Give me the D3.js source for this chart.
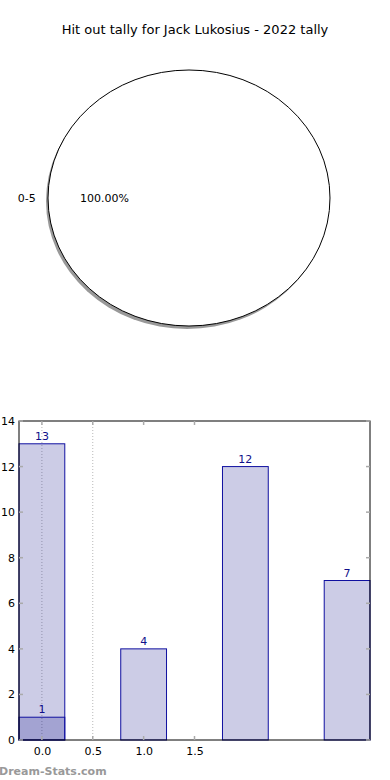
<!DOCTYPE html>
<html>
<head>
<meta charset="utf-8">
<script src="https://cdn.jsdelivr.net/npm/d3@7"></script>
<style>
  body { margin: 0; background: #fff; }
  svg { display: block; font-family: "DejaVu Sans", sans-serif; }
</style>
</head>
<body>
<div id="chart"></div>
<script>
// pie data
const pieLabels = ['0-5'];
const pieValues = [1];

// bar data
const barCategories = [0, 1, 2, 3];
const tallyValues = [13, 4, 12, 7];
const overlapCategories = [0];
const overlapValues = [1];
const xTicks = [0.0, 0.5, 1.0, 1.5];
const yTicks = [0, 2, 4, 6, 8, 10, 12, 14];

const width = 390;
const height = 780;
const barFill = 'rgba(0, 0, 128, 0.2)';
const barEdge = '#1010a0';

const svg = d3.select('#chart')
  .append('svg')
  .attr('width', width)
  .attr('height', height);

svg.append('text')
  .attr('x', 195)
  .attr('y', 34)
  .attr('text-anchor', 'middle')
  .style('font-size', '13px')
  .text('Hit out tally for Jack Lukosius - 2022 tally');

// pie, squashed into an ellipse like the original
const pieCx = 189, pieCy = 198, rx = 141, ry = 128;
const arcs = d3.pie().sort(null)(pieValues);
const arc = d3.arc().innerRadius(0).outerRadius(1);
const pieG = svg.append('g');

// shadow
pieG.append('g')
  .attr('transform', 'translate(' + (pieCx - 2) + ',' + (pieCy + 3) + ') scale(' + rx + ',' + ry + ')')
  .selectAll('path')
  .data(arcs)
  .enter()
  .append('path')
  .attr('d', arc)
  .attr('fill', '#999');

pieG.append('g')
  .attr('transform', 'translate(' + pieCx + ',' + pieCy + ') scale(' + rx + ',' + ry + ')')
  .selectAll('path')
  .data(arcs)
  .enter()
  .append('path')
  .attr('d', arc)
  .attr('fill', '#fff')
  .attr('stroke', '#000')
  .attr('stroke-width', 1)
  .attr('vector-effect', 'non-scaling-stroke');

arcs.forEach((a, i) => {
  // slices start at 0deg (matplotlib default), single slice -> mid angle points left
  const mid = (a.startAngle + a.endAngle) / 2;
  svg.append('text')
    .attr('x', pieCx + Math.cos(mid) * rx * 1.15)
    .attr('y', pieCy - Math.sin(mid) * ry * 1.15 + 4)
    .attr('text-anchor', 'middle')
    .style('font-size', '11px')
    .text(pieLabels[i]);
  svg.append('text')
    .attr('x', pieCx + Math.cos(mid) * rx * 0.6)
    .attr('y', pieCy - Math.sin(mid) * ry * 0.6 + 4)
    .attr('text-anchor', 'middle')
    .style('font-size', '11px')
    .text(d3.format('.2f')(a.value / d3.sum(pieValues) * 100) + '%');
});

// bar chart
const margin = {left: 19, right: 20, top: 421, bottom: 40};
const plotRight = width - margin.right;
const plotBottom = height - margin.bottom;
const barWidth = 0.45;

const x = d3.scaleLinear()
  .domain([-0.225, 3.225])
  .range([margin.left, plotRight]);

const y = d3.scaleLinear()
  .domain([0, 14])
  .range([plotBottom, margin.top]);

const bw = x(barWidth) - x(0);

const grid = svg.append('g');
[0.0, 0.5].forEach(t => {
  grid.append('line')
    .attr('x1', x(t)).attr('x2', x(t))
    .attr('y1', margin.top).attr('y2', plotBottom)
    .attr('stroke', '#b8b8b8')
    .attr('stroke-dasharray', '1,2');
});

function drawBars(cats, vals) {
  svg.append('g')
    .selectAll('rect')
    .data(vals)
    .enter()
    .append('rect')
    .attr('x', (d, i) => x(cats[i] - barWidth / 2))
    .attr('y', d => y(d))
    .attr('width', bw)
    .attr('height', d => y(0) - y(d))
    .attr('fill', barFill)
    .attr('stroke', barEdge)
    .attr('stroke-width', 1);

  svg.append('g')
    .selectAll('text')
    .data(vals)
    .enter()
    .append('text')
    .attr('x', (d, i) => x(cats[i]))
    .attr('y', d => y(d) - 4)
    .attr('text-anchor', 'middle')
    .attr('fill', '#10108a')
    .style('font-size', '11px')
    .text(d => d);
}

drawBars(barCategories, tallyValues);
drawBars(overlapCategories, overlapValues);

// frame
svg.append('rect')
  .attr('x', margin.left)
  .attr('y', margin.top)
  .attr('width', plotRight - margin.left)
  .attr('height', plotBottom - margin.top)
  .attr('fill', 'none')
  .attr('stroke', '#000')
  .attr('stroke-width', 1);

// axes
const yAxis = svg.append('g')
  .attr('transform', 'translate(' + margin.left + ',0)')
  .call(d3.axisLeft(y).tickValues(yTicks).tickSize(0).tickPadding(4));
yAxis.select('.domain').remove();
yAxis.selectAll('text').style('font-size', '11px').style('font-family', '"DejaVu Sans", sans-serif').attr('fill', '#000');

const xAxis = svg.append('g')
  .attr('transform', 'translate(0,' + plotBottom + ')')
  .call(d3.axisBottom(x).tickValues(xTicks).tickFormat(d3.format('.1f')).tickSize(0).tickPadding(7));
xAxis.select('.domain').remove();
xAxis.selectAll('text').style('font-size', '11px').style('font-family', '"DejaVu Sans", sans-serif').attr('fill', '#000');

// small inner tick marks
const tickG = svg.append('g').attr('stroke', '#aaa').attr('stroke-width', 1.5);
yTicks.forEach(t => {
  tickG.append('line').attr('x1', margin.left).attr('x2', margin.left + 4).attr('y1', y(t)).attr('y2', y(t));
  tickG.append('line').attr('x1', plotRight - 4).attr('x2', plotRight).attr('y1', y(t)).attr('y2', y(t));
});
xTicks.forEach(t => {
  tickG.append('line').attr('x1', x(t)).attr('x2', x(t)).attr('y1', plotBottom).attr('y2', plotBottom - 4);
  tickG.append('line').attr('x1', x(t)).attr('x2', x(t)).attr('y1', margin.top).attr('y2', margin.top + 4);
});

svg.append('text')
  .attr('x', -1)
  .attr('y', 775)
  .attr('fill', '#999')
  .style('font-size', '11px')
  .style('font-weight', 'bold')
  .text('Dream-Stats.com');
</script>
</body>
</html>
